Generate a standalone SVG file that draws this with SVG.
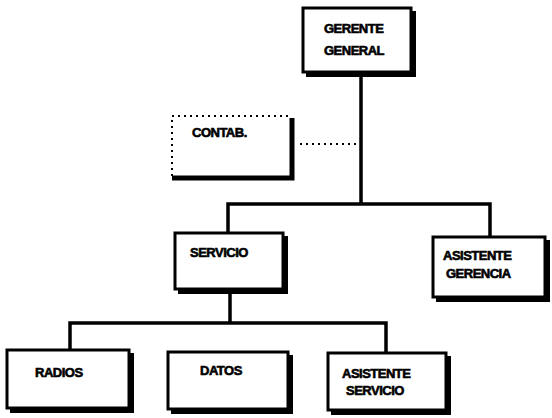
<svg xmlns="http://www.w3.org/2000/svg" width="552" height="418" viewBox="0 0 552 418">
<defs>
<style>
.shadow{fill:#000}
.box{fill:#fff;stroke:#000;stroke-width:3}
.lbl{font-family:"Liberation Sans",Arial,sans-serif;font-weight:bold;font-size:13px;fill:#000;stroke:#000;stroke-width:0.6;letter-spacing:-0.5px}
.conn{fill:none;stroke:#000;stroke-width:3.5}
.dot{fill:none;stroke:#000;stroke-width:2;stroke-dasharray:2 4}
</style>
</defs>
<rect width="552" height="418" fill="#fff"/>
<g id="connectors">
<path class="conn" d="M361 72 V204 M228 234 V204 H490 V237"/>
<path class="conn" d="M230 290 V323 M70 350 V323 H386 V353"/>
<path class="dot" d="M300 144 H358"/>
</g>
<g id="gerente">
<rect class="shadow" x="306" y="11" width="110" height="66"/>
<rect class="box" x="303" y="8" width="108" height="64"/>
<text class="lbl" x="324" y="33">GERENTE</text>
<text class="lbl" x="324" y="55">GENERAL</text>
</g>
<g id="contab">
<path d="M292 118 V178 H172" fill="none" stroke="#000" stroke-width="5"/>
<path class="dot" d="M172 176 V116 H290"/>
<text class="lbl" x="192" y="137">CONTAB.</text>
</g>
<g id="servicio">
<rect class="shadow" x="178" y="236" width="110" height="58"/>
<rect class="box" x="175" y="233" width="108" height="56"/>
<text class="lbl" x="190" y="257">SERVICIO</text>
</g>
<g id="asistente-gerencia">
<rect class="shadow" x="436" y="240" width="114" height="62"/>
<rect class="box" x="433" y="237" width="112" height="60"/>
<text class="lbl" x="443" y="260">ASISTENTE</text>
<text class="lbl" x="446" y="278">GERENCIA</text>
</g>
<g id="radios">
<rect class="shadow" x="10" y="353" width="124" height="60"/>
<rect class="box" x="7" y="350" width="122" height="58"/>
<text class="lbl" x="35" y="377">RADIOS</text>
</g>
<g id="datos">
<rect class="shadow" x="171" y="355" width="122" height="59"/>
<rect class="box" x="168" y="352" width="120" height="57"/>
<text class="lbl" x="200" y="375">DATOS</text>
</g>
<g id="asistente-servicio">
<rect class="shadow" x="331" y="356" width="120" height="59"/>
<rect class="box" x="328" y="353" width="118" height="57"/>
<text class="lbl" x="342" y="378">ASISTENTE</text>
<text class="lbl" x="346" y="395">SERVICIO</text>
</g>
</svg>
